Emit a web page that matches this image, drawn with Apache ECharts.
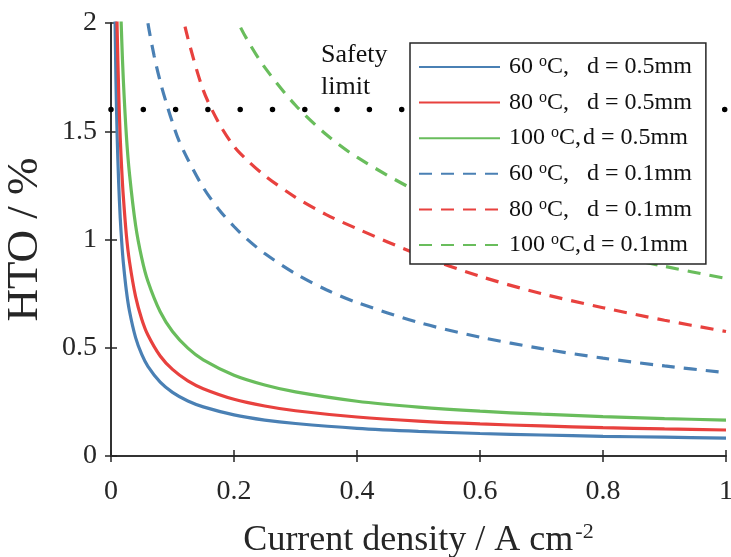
<!DOCTYPE html>
<html>
<head>
<meta charset="utf-8">
<script src="https://cdn.jsdelivr.net/npm/echarts@6/dist/echarts.min.js"></script>
<style>
  html, body { margin: 0; padding: 0; background: #fff; }
  #chart { width: 731px; height: 557px; }
</style>
</head>
<body>
<div id="chart"></div>
<script>
// current density (A cm^-2) sampling for the thick membrane curves
const jThick = [0.006, 0.008, 0.01, 0.0125, 0.015, 0.0175, 0.02, 0.025, 0.03, 0.04, 0.05, 0.06, 0.08,
  0.1, 0.125, 0.15, 0.2, 0.25, 0.3, 0.4, 0.5, 0.6, 0.7, 0.8, 0.9, 1.0];
const hto60Thick = [2.15, 1.74, 1.48, 1.26, 1.10, 0.986, 0.895, 0.763, 0.67, 0.547, 0.469, 0.414, 0.341,
  0.294, 0.254, 0.227, 0.19, 0.166, 0.15, 0.128, 0.114, 0.104, 0.097, 0.091, 0.087, 0.083];
const hto80Thick = [2.87, 2.32, 1.97, 1.68, 1.47, 1.32, 1.20, 1.02, 0.899, 0.736, 0.632, 0.559, 0.462,
  0.40, 0.347, 0.311, 0.262, 0.231, 0.209, 0.18, 0.161, 0.148, 0.139, 0.131, 0.125, 0.12];
const hto100Thick = [4.18, 3.38, 2.87, 2.44, 2.14, 1.92, 1.74, 1.48, 1.305, 1.066, 0.914, 0.807, 0.666,
  0.575, 0.498, 0.444, 0.373, 0.328, 0.296, 0.253, 0.226, 0.207, 0.193, 0.182, 0.173, 0.166];

// thin membrane curves
const jThin = [0.05, 0.06, 0.07, 0.08, 0.09, 0.1, 0.11, 0.125, 0.15, 0.175, 0.2, 0.22, 0.25,
  0.3, 0.35, 0.4, 0.5, 0.6, 0.7, 0.8, 0.9, 1.0];
const hto60Thin = [2.20, 2.00, 1.85, 1.73, 1.63, 1.54, 1.46, 1.37, 1.24, 1.14, 1.06, 1.005, 0.935,
  0.842, 0.768, 0.709, 0.617, 0.549, 0.496, 0.452, 0.416, 0.385];
const hto80Thin = [3.8, 3.4, 3.05, 2.75, 2.5, 2.3, 2.12, 1.93, 1.69, 1.54, 1.43, 1.37, 1.295,
  1.195, 1.115, 1.05, 0.93, 0.83, 0.75, 0.685, 0.627, 0.575];
const hto100Thin = [4.46, 4.02, 3.68, 3.42, 3.20, 3.01, 2.85, 2.65, 2.40, 2.19, 2.04, 1.93, 1.795,
  1.62, 1.485, 1.38, 1.22, 1.105, 1.015, 0.94, 0.876, 0.82];

const safetyLimit = 1.6;

const temps = ['60', '80', '100'];
const colors = ['#4a80b4', '#e8413e', '#69bd5c'];
const serif = 'Liberation Serif';
const ink = '#262626';

const zip = (xs, ys) => xs.map((x, i) => [x, ys[i]]);

function curve(name, xs, ys, color, dashed) {
  return {
    name,
    type: 'line',
    data: zip(xs, ys),
    showSymbol: false,
    symbol: 'none',
    smooth: 0.3,
    lineStyle: { color, width: 3.2, type: dashed ? [13, 9] : 'solid' },
    itemStyle: { color },
    z: 3,
  };
}

const thickSets = [hto60Thick, hto80Thick, hto100Thick];
const thinSets = [hto60Thin, hto80Thin, hto100Thin];
const names = [];
const series = [];
temps.forEach((t, i) => {
  const n = t + '|0.5';
  names.push(n);
  series.push(curve(n, jThick, thickSets[i], colors[i], false));
});
temps.forEach((t, i) => {
  const n = t + '|0.1';
  names.push(n);
  series.push(curve(n, jThin, thinSets[i], colors[i], true));
});

// dotted safety line
series.push({
  type: 'line',
  data: [[0, safetyLimit], [1, safetyLimit]],
  showSymbol: false,
  symbol: 'none',
  clip: false,
  silent: true,
  lineStyle: { color: '#000', width: 5.5, type: [0, 32.3], cap: 'round' },
  z: 2,
});

function axisCommon(show, margin) {
  return {
    axisLine: { show: true, lineStyle: { color: ink, width: 1.5 } },
    axisTick: { show: true, inside: true, length: 6, lineStyle: { color: ink, width: 1.5 } },
    axisLabel: {
      show,
      fontFamily: serif,
      fontSize: 28,
      color: ink,
      margin,
    },
    splitLine: { show: false },
  };
}

const chart = echarts.init(document.getElementById('chart'), null, { renderer: 'canvas' });
chart.setOption({
  animation: false,
  backgroundColor: '#fff',
  grid: { left: 111, right: 5, top: 23, bottom: 101, containLabel: false, outerBoundsMode: 'none' },
  xAxis: [
    Object.assign({
      type: 'value', min: 0, max: 1, interval: 0.2, position: 'bottom',
      name: '{n|Current density / A cm}{s|-2}',
      nameLocation: 'middle',
      nameGap: 65,
      nameTextStyle: {
        rich: {
          n: { fontFamily: serif, fontSize: 36, color: ink, lineHeight: 40 },
          s: { fontFamily: serif, fontSize: 22, color: ink, lineHeight: 22, verticalAlign: 'top', padding: [0, 0, 0, 2] },
        },
      },
    }, axisCommon(true, 22)),
    Object.assign({ type: 'value', min: 0, max: 1, interval: 0.2, position: 'top' }, axisCommon(false, 8)),
  ],
  yAxis: [
    Object.assign({
      type: 'value', min: 0, max: 2, interval: 0.5, position: 'left',
      name: 'HTO / %',
      nameLocation: 'middle',
      nameGap: 63,
      nameTextStyle: { fontFamily: serif, fontSize: 45, color: ink },
    }, axisCommon(true, 14)),
    Object.assign({ type: 'value', min: 0, max: 2, interval: 0.5, position: 'right' }, axisCommon(false, 8)),
  ],
  legend: {
    data: names,
    orient: 'vertical',
    left: 410,
    top: 43,
    padding: [11, 14, 7, 8],
    itemWidth: 81,
    itemHeight: 14,
    itemGap: 10.6,
    itemStyle: { opacity: 0 },
    backgroundColor: '#fff',
    borderColor: ink,
    borderWidth: 1.5,
    borderRadius: 0,
    selectedMode: false,
    formatter: (name) => {
      const [t, d] = name.split('|');
      const gap = t === '100' ? 'g2' : 'g1';
      return `{t|${t} }{s|o}{c|C,}{${gap}| }{d|d = ${d}mm}`;
    },
    textStyle: {
      rich: {
        t: { fontFamily: serif, fontSize: 24, color: '#111', lineHeight: 26, padding: [0, 0, 0, 4] },
        s: { fontFamily: serif, fontSize: 16, color: '#111', lineHeight: 14, verticalAlign: 'top' },
        c: { fontFamily: serif, fontSize: 24, color: '#111', lineHeight: 26 },
        g1: { fontFamily: serif, fontSize: 24, lineHeight: 26, width: 18 },
        g2: { fontFamily: serif, fontSize: 24, lineHeight: 26, width: 2 },
        d: { fontFamily: serif, fontSize: 24, color: '#111', lineHeight: 26 },
      },
    },
  },
  graphic: [{
    type: 'text',
    left: 321,
    top: 39,
    z: 10,
    style: {
      text: 'Safety\nlimit',
      fontFamily: serif,
      fontSize: 26,
      lineHeight: 32,
      fill: '#111',
    },
  }],
  series,
});
</script>
</body>
</html>
